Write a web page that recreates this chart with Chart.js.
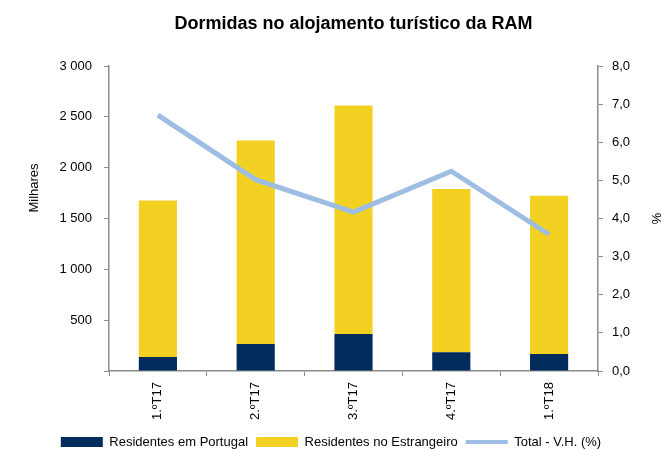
<!DOCTYPE html>
<html>
<head>
<meta charset="utf-8">
<script src="https://cdn.jsdelivr.net/npm/chart.js@4/dist/chart.umd.min.js"></script>
<style>
html,body{margin:0;padding:0;background:#fff;}
#wrap{width:662px;height:450px;position:relative;}
</style>
</head>
<body>
<div id="wrap"><canvas id="c" width="662" height="450"></canvas></div>
<script>
const categories = ['1.ºT17', '2.ºT17', '3.ºT17', '4.ºT17', '1.ºT18'];
const residentesPortugal = [138, 266, 365, 184, 168];
const residentesEstrangeiro = [1540, 2001, 2247, 1605, 1556];
const totalVH = [6.71, 5.02, 4.17, 5.24, 3.58];

const seriesNames = ['Residentes em Portugal', 'Residentes no Estrangeiro', 'Total - V.H. (%)'];
const chartTitle = 'Dormidas no alojamento turístico da RAM';
const leftAxisTitle = 'Milhares';
const rightAxisTitle = '%';

const NAVY = '#002B5B';
const YELLOW = '#F3D123';
const LINE = '#9DBDE3';
const AXIS = '#8C8C8C';
const FONT = 'Liberation Sans, Arial, sans-serif';

function fmtThousands(v){
  const s = Math.round(v).toString();
  return s.replace(/\B(?=(\d{3})+(?!\d))/g, ' ');
}

const leftTitlePlugin = {
  id: 'leftTitle',
  afterDraw(chart){
    const ctx = chart.ctx;
    ctx.save();
    ctx.translate(34, 188);
    ctx.rotate(-Math.PI/2);
    ctx.font = '13px ' + FONT;
    ctx.fillStyle = '#000';
    ctx.textAlign = 'center';
    ctx.textBaseline = 'middle';
    ctx.fillText(leftAxisTitle, 0, 0);
    ctx.restore();
  }
};

new Chart(document.getElementById('c'), {
  data: {
    labels: categories,
    datasets: [
      {
        type: 'line',
        label: seriesNames[2],
        data: totalVH,
        yAxisID: 'y1',
        borderColor: LINE,
        backgroundColor: LINE,
        borderWidth: 5,
        pointRadius: 0,
        tension: 0,
        order: 0
      },
      {
        type: 'bar',
        label: seriesNames[0],
        data: residentesPortugal,
        yAxisID: 'y',
        backgroundColor: NAVY,
        borderColor: NAVY,
        borderWidth: 0,
        stack: 's',
        barPercentage: 0.39,
        categoryPercentage: 1,
        order: 1
      },
      {
        type: 'bar',
        label: seriesNames[1],
        data: residentesEstrangeiro,
        yAxisID: 'y',
        backgroundColor: YELLOW,
        borderColor: YELLOW,
        borderWidth: 0,
        stack: 's',
        barPercentage: 0.39,
        categoryPercentage: 1,
        order: 1
      }
    ]
  },
  options: {
    responsive: false,
    animation: false,
    devicePixelRatio: 1,
    layout: { padding: { left: 0, right: 0, top: 0, bottom: -8.5 } },
    plugins: {
      title: {
        display: true,
        fullSize: false,
        text: chartTitle,
        color: '#000',
        font: { family: FONT, size: 18, weight: 'bold', lineHeight: 1.2 },
        padding: { top: 13, bottom: 31.4 }
      },
      legend: {
        position: 'bottom',
        labels: {
          color: '#000',
          font: { family: FONT, size: 13 },
          usePointStyle: true,
          pointStyleWidth: 42,
          boxHeight: 10,
          padding: 8,
          generateLabels(chart){
            const order = [1, 2, 0];
            return order.map(i => {
              const ds = chart.data.datasets[i];
              const isLine = ds.type === 'line';
              return {
                text: ds.label,
                fillStyle: ds.backgroundColor,
                strokeStyle: ds.borderColor,
                lineWidth: isLine ? 4 : 0,
                pointStyle: isLine ? 'line' : 'rect',
                hidden: false,
                datasetIndex: i,
                fontColor: '#000'
              };
            });
          }
        }
      },
      tooltip: { enabled: false }
    },
    scales: {
      x: {
        stacked: true,
        offset: true,
        grid: {
          offset: true,
          drawOnChartArea: false,
          drawTicks: true,
          tickLength: 5,
          color: AXIS,
          lineWidth: 1
        },
        border: { color: AXIS, width: 1.5 },
        ticks: {
          color: '#000',
          font: { family: FONT, size: 13 },
          minRotation: 90,
          maxRotation: 90,
          padding: 6,
          autoSkip: false
        },
        afterFit(scale){ scale.height = 56.5; }
      },
      y: {
        position: 'left',
        stacked: true,
        min: 0,
        max: 3000,
        grid: {
          drawOnChartArea: false,
          drawTicks: true,
          tickLength: 5,
          color: AXIS
        },
        border: { color: AXIS, width: 1.5 },
        ticks: {
          stepSize: 500,
          color: '#000',
          font: { family: FONT, size: 13 },
          padding: 12,
          callback(v){ return v === 0 ? '' : fmtThousands(v); }
        },
        afterFit(scale){ scale.width = 109; }
      },
      y1: {
        position: 'right',
        min: 0,
        max: 8,
        grid: {
          drawOnChartArea: false,
          drawTicks: true,
          tickLength: 5,
          color: AXIS
        },
        border: { color: AXIS, width: 1.5 },
        ticks: {
          stepSize: 1,
          color: '#000',
          font: { family: FONT, size: 13 },
          padding: 9,
          callback(v){ return v.toFixed(1).replace('.', ','); }
        },
        title: {
          display: true,
          text: rightAxisTitle,
          color: '#000',
          font: { family: FONT, size: 13, lineHeight: 1 },
          padding: { top: 0, bottom: 0 }
        },
        afterFit(scale){ scale.width = 64; }
      }
    }
  },
  plugins: [leftTitlePlugin]
});
</script>
</body>
</html>
